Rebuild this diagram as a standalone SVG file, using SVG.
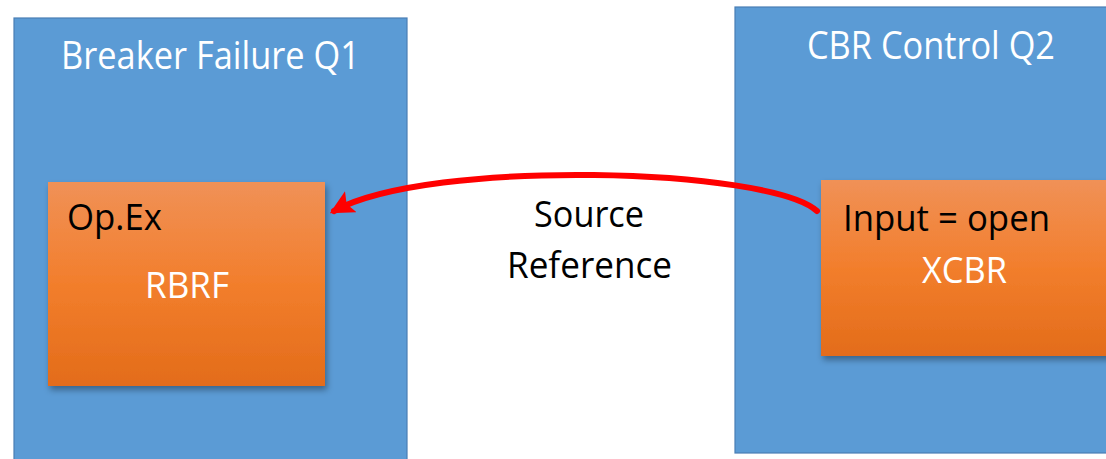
<svg xmlns="http://www.w3.org/2000/svg" width="1106" height="459" viewBox="0 0 1106 459">
  <style>
    .ied { fill: #5B9BD5; stroke: #4A7EB5; stroke-width: 1.2; }
    .ln { fill: url(#orangeGrad); filter: url(#shadow); }
    .title { font-family: "Open Sans", "Noto Sans", sans-serif; font-size: 38px; fill: #FFFFFF; }
    .lbl { font-family: "Open Sans", "Noto Sans", sans-serif; font-size: 37px; fill: #000000; }
    .cls { font-family: "Open Sans", "Noto Sans", sans-serif; font-size: 37px; fill: #FFFFFF; }
    .link { fill: none; stroke: #FF0000; stroke-width: 6; stroke-linecap: round; }
  </style>
  <defs>
    <linearGradient id="orangeGrad" x1="0" y1="0" x2="0" y2="1">
      <stop offset="0" stop-color="#F09157"/>
      <stop offset="0.5" stop-color="#F27E2C"/>
      <stop offset="1" stop-color="#E36C1A"/>
    </linearGradient>
    <filter id="shadow" x="-10%" y="-10%" width="125%" height="130%">
      <feDropShadow dx="2" dy="4" stdDeviation="3" flood-color="#000000" flood-opacity="0.35"/>
    </filter>
    <marker id="arrowHead" viewBox="0 0 10 10" refX="8" refY="5" markerWidth="4" markerHeight="4" markerUnits="strokeWidth" orient="auto">
      <path d="M0,0 L10,5 L0,10 L2,5 Z" fill="#FF0000"/>
    </marker>
  </defs>

  <rect width="1106" height="459" fill="#FFFFFF"/>

  <!-- IED: breaker failure protection -->
  <g id="ied-q1">
    <rect class="ied" x="14" y="18" width="393" height="450"/>
    <text class="title" x="61" y="69" textLength="299" lengthAdjust="spacingAndGlyphs">Breaker Failure Q1</text>
    <g id="rbrf">
      <rect class="ln" x="48" y="182" width="277" height="204"/>
      <text class="lbl" x="67" y="230" textLength="95" lengthAdjust="spacingAndGlyphs">Op.Ex</text>
      <text class="cls" x="145" y="298" textLength="84" lengthAdjust="spacingAndGlyphs">RBRF</text>
    </g>
  </g>

  <!-- IED: circuit breaker control -->
  <g id="ied-q2">
    <rect class="ied" x="735" y="7" width="380" height="446"/>
    <text class="title" x="807" y="59" textLength="248" lengthAdjust="spacingAndGlyphs">CBR Control Q2</text>
    <g id="xcbr">
      <rect class="ln" x="821" y="180" width="295" height="176"/>
      <text class="lbl" x="843" y="231" textLength="207" lengthAdjust="spacingAndGlyphs">Input = open</text>
      <text class="cls" x="922" y="283" textLength="85" lengthAdjust="spacingAndGlyphs">XCBR</text>
    </g>
  </g>

  <!-- Source reference link from XCBR input to RBRF -->
  <g id="connectors">
    <path class="link" d="M817,211 C770,168 430,158 334,211" marker-end="url(#arrowHead)"/>
    <text class="lbl" x="534" y="227" textLength="110" lengthAdjust="spacingAndGlyphs">Source</text>
    <text class="lbl" x="507" y="278" textLength="165" lengthAdjust="spacingAndGlyphs">Reference</text>
  </g>
</svg>
